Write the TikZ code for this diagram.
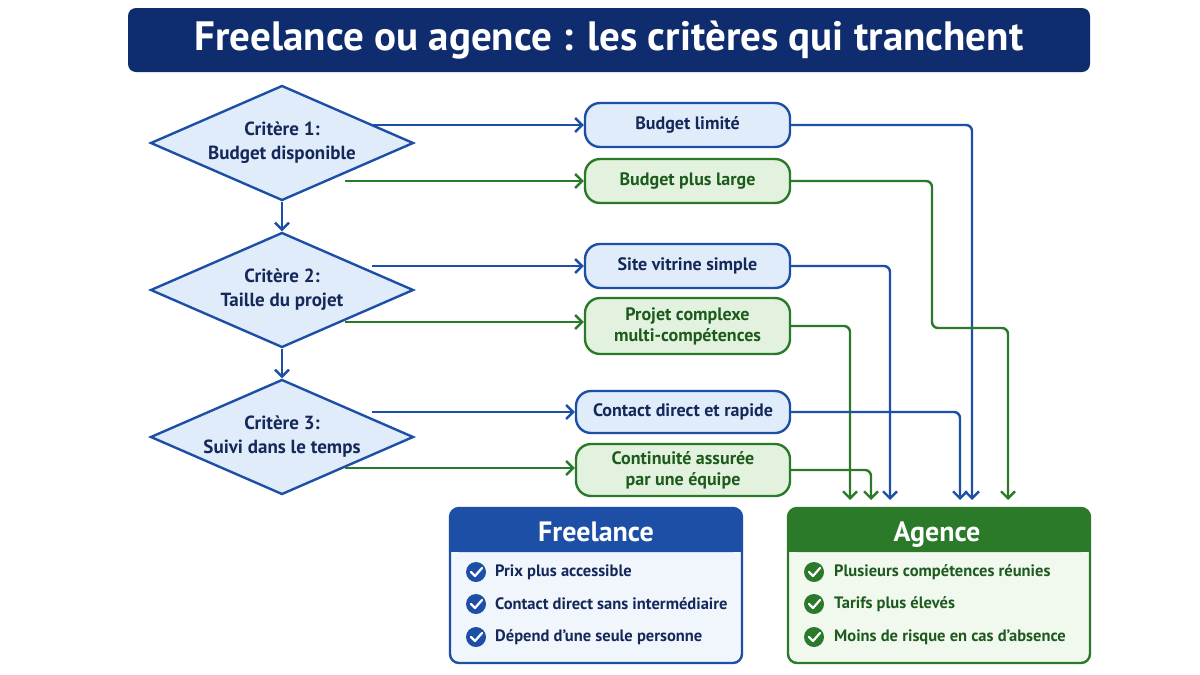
\documentclass[tikz,border=0pt]{standalone}
\usepackage{fontspec}
\setmainfont{PT Sans}
\usetikzlibrary{shapes.geometric,arrows.meta}
\definecolor{navy}{HTML}{0F2D6E}
\definecolor{bl}{HTML}{1D4FA6}
\definecolor{gr}{HTML}{2A7A2A}
\definecolor{lbl}{HTML}{E1ECFA}
\definecolor{lgr}{HTML}{E3F2DE}
\definecolor{tbl}{HTML}{14285A}
\definecolor{tgr}{HTML}{1D5A1D}
\begin{document}
\begin{tikzpicture}[x=1pt,y=-1pt,
 dia/.style={diamond,draw=bl,line width=2.4pt,fill=lbl,minimum width=263pt,minimum height=115pt,aspect=2.3,inner sep=0pt,align=center,text=tbl,font=\fontsize{19}{24}\selectfont\bfseries},
 opt/.style={rounded corners=15pt,line width=2.4pt,align=center,font=\fontsize{18}{21}\selectfont\bfseries,inner sep=0pt},
 ob/.style={opt,draw=bl,fill=lbl,text=tbl},
 og/.style={opt,draw=gr,fill=lgr,text=tgr},
 ab/.style={draw=bl,line width=2.4pt,rounded corners=6pt,-{Straight Barb[length=7pt,width=14pt]}},
 ag/.style={ab,draw=gr},
 item/.style={anchor=west,font=\fontsize{16.5}{20}\selectfont\bfseries,inner sep=0pt},
 hd/.style={text=white,font=\fontsize{28}{32}\selectfont\bfseries,anchor=base}]
\useasboundingbox (0,0) rectangle (1200,675);
\fill[white] (0,0) rectangle (1200,675);
% title
\node[fill=navy,rounded corners=8pt,minimum width=962pt,minimum height=64pt,text=white,font=\fontsize{41}{44}\selectfont\bfseries] (title) at (609,40) {Freelance ou agence : les critères qui tranchent};
% diamonds
\node[dia] (d1) at (282,143) {Critère 1:\\Budget disponible};
\node[dia] (d2) at (282,290) {Critère 2:\\Taille du projet};
\node[dia] (d3) at (282,437) {Critère 3:\\Suivi dans le temps};
\draw[ab] (d1.south) -- (d2.north);
\draw[ab] (d2.south) -- (d3.north);
% options
\node[ob,minimum width=205pt,minimum height=44pt] (o1) at (687.5,125) {Budget limité};
\node[og,minimum width=205pt,minimum height=44pt] (o2) at (687.5,181) {Budget plus large};
\node[ob,minimum width=205pt,minimum height=44pt] (o3) at (687.5,266) {Site vitrine simple};
\node[og,minimum width=205pt,minimum height=56pt] (o4) at (687.5,326) {Projet complexe\\multi-compétences};
\node[ob,minimum width=214pt,minimum height=42pt] (o5) at (683,412) {Contact direct et rapide};
\node[og,minimum width=214pt,minimum height=52pt] (o6) at (683,470) {Continuité assurée\\par une équipe};
\coordinate (s1) at (372,125); \coordinate (s2) at (345,181);
\coordinate (s3) at (372,266); \coordinate (s4) at (345,322);
\coordinate (s5) at (372,412); \coordinate (s6) at (345,468);
\draw[ab] (s1) -- (o1.west);
\draw[ag] (s2) -- (o2.west);
\draw[ab] (s3) -- (o3.west);
\draw[ag] (s4) -- (s4 -| o4.west);
\draw[ab] (s5) -- (o5.west);
\draw[ag] (s6) -- (s6 -| o6.west);
% bottom boxes
\fill[lbl!50] (450,508) [rounded corners=9pt] rectangle (742,663);
\fill[bl,rounded corners=9pt] (450,508) rectangle (742,552);
\fill[bl] (450,535) rectangle (742,552);
\draw[bl,line width=2.4pt,rounded corners=9pt] (450,508) rectangle (742,663);
\node[hd] (fl) at (596,541) {Freelance};
\fill[lgr!50] (788,508) [rounded corners=9pt] rectangle (1090,663);
\fill[gr,rounded corners=9pt] (788,508) rectangle (1090,552);
\fill[gr] (788,535) rectangle (1090,552);
\draw[gr,line width=2.4pt,rounded corners=9pt] (788,508) rectangle (1090,663);
\node[hd] (ag) at (937,541) {Agence};
% targets
\coordinate (t1) at (972,500); \coordinate (t2) at (1008,500);
\coordinate (t3) at (890,500); \coordinate (t4) at (850,500);
\coordinate (t5) at (960,500); \coordinate (t6) at (871,500);
\draw[ab] (o1.east) -| (t1);
\draw[ag] (o2.east) -- (932,181) -- (932,328) -- (1008,328) -- (t2);
\draw[ab] (o3.east) -| (t3);
\draw[ag] (o4.east) -| (t4);
\draw[ab] (o5.east) -| (t5);
\draw[ag] (o6.east) -| (t6);
% items
\foreach \y/\t [count=\i] in {572/Prix plus accessible,604/Contact direct sans intermédiaire,637/Dépend d'une seule personne}{
 \fill[bl] (476,\y) circle (10pt);
 \draw[white,line width=2.2pt,line cap=round,line join=round] (471,\y) -- (475,\y+4) -- (482,\y-4);
 \node[item,text=tbl] (f\i) at (495,\y) {\t};}
\foreach \y/\t [count=\i] in {572/Plusieurs compétences réunies,604/Tarifs plus élevés,637/Moins de risque en cas d'absence}{
 \fill[gr] (814,\y) circle (10pt);
 \draw[white,line width=2.2pt,line cap=round,line join=round] (809,\y) -- (813,\y+4) -- (820,\y-4);
 \node[item,text=tgr] (a\i) at (834,\y) {\t};}
\end{tikzpicture}
\end{document}
